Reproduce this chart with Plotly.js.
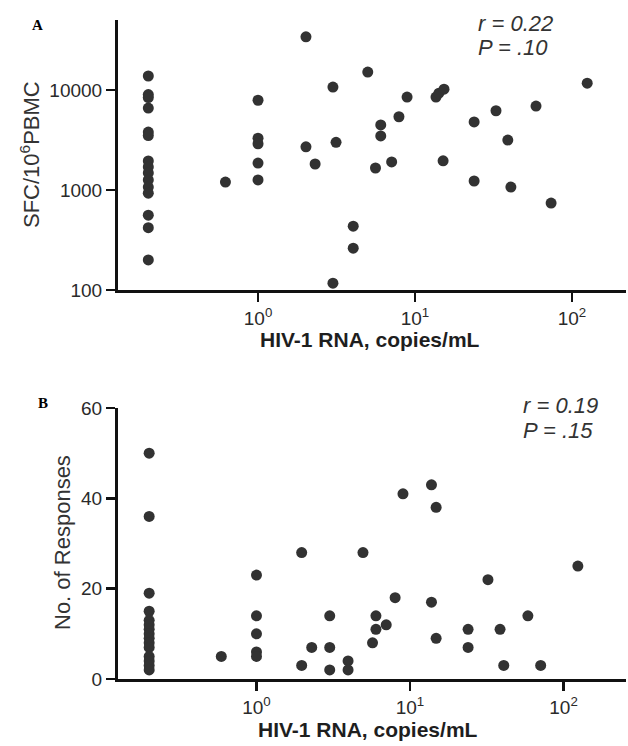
<!DOCTYPE html>
<html><head><meta charset="utf-8">
<script src="https://cdn.plot.ly/plotly-3.0.1.min.js"></script>
<style>html,body{margin:0;padding:0;background:#fff}#chart{width:628px;height:746px}</style>
</head><body><div id="chart"></div>
<script>
// Panel A: HIV-1 RNA (copies/mL) vs SFC/10^6 PBMC
const rnaA = [0.2,0.2,0.2,0.2,0.2,0.2,0.2,0.2,0.2,0.2,0.2,0.2,0.2,0.2,0.2,
  0.62, 1,1,1,1,1, 2.02,2.02, 2.31, 3.0,3.14,3.0, 4.04,4.04, 5.0, 5.6, 6.05,6.05,
  7.1, 7.9, 8.9, 13.6,14.2,15.3, 15.1, 23.8,23.8, 32.8, 39, 40.8, 59, 73.6, 125];
const sfcA = [13800,9000,8400,6600,3800,3500,1950,1700,1480,1260,1070,930,560,420,200,
  1200, 7900,3300,2900,1860,1260, 34000,2700, 1820, 10700,3000,117, 435,262, 15100, 1660, 4470,3470,
  1910, 5400, 8500, 8500,9300,10200, 1960, 4800,1230, 6200, 3160, 1070, 6900, 740, 11700];
// Panel B: HIV-1 RNA (copies/mL) vs number of responses
const rnaB = [0.2,0.2,0.2,0.2,0.2,0.2,0.2,0.2,0.2,0.2,0.2,0.2,0.2,0.2,0.2,
  0.59, 1,1,1,1,1, 1.97,1.97, 2.29, 3.0,3.0,3.0, 3.95,3.95, 4.94, 5.7, 6.0,6.0,
  7.0, 8.0, 9.0, 13.8,13.8, 14.8,14.8, 23.9,23.9, 32.2, 38.6, 40.8, 58.6, 71, 124];
const respB = [50,36,19,15,13,12,11,10,9,8,7,5,4,3,2,
  5, 23,14,10,6,5, 28,3, 7, 14,7,2, 4,2, 28, 8, 14,11,
  12, 18, 41, 43,17, 38,9, 11,7, 22, 11, 3, 14, 3, 25];

const xTickVals = [1, 10, 100];
const xTickText = ['10<sup>0</sup>', '10<sup>1</sup>', '10<sup>2</sup>'];
const yTickValsA = [100, 1000, 10000];
const yTickTextA = ['100', '1000', '10000'];
const yTickValsB = [0, 20, 40, 60];

const statsA = ['<i>r = 0.22</i>', '<i>P = .10</i>'];
const statsB = ['<i>r = 0.19</i>', '<i>P = .15</i>'];

const W = 628, H = 746, L = 118, R = 2, T = 20, B = 67;
const pw = W - L - R, ph = H - T - B;
const px = v => (v - L) / pw;
const py = v => (H - B - v) / ph;

const mk = {size: 11, color: '#323232'};
const traces = [
  {x: rnaA, y: sfcA, type: 'scatter', mode: 'markers', marker: mk, xaxis: 'x', yaxis: 'y', cliponaxis: false},
  {x: rnaB, y: respB, type: 'scatter', mode: 'markers', marker: mk, xaxis: 'x2', yaxis: 'y2', cliponaxis: false}
];

const tickFont = {family: 'Liberation Sans, Arial, sans-serif', size: 19, color: '#2a2a2a'};
const axBase = {showline: true, linecolor: '#111', linewidth: 3, ticks: 'outside', ticklen: 9, tickwidth: 2.5,
  tickcolor: '#111', showgrid: false, zeroline: false, tickfont: tickFont, mirror: false};

const layout = {
  width: W, height: H, showlegend: false,
  paper_bgcolor: '#fff', plot_bgcolor: '#fff',
  margin: {l: L, r: R, t: T, b: B},
  xaxis: Object.assign({}, axBase, {type: 'log', range: [-0.892, 2.344], tickvals: xTickVals, ticktext: xTickText, anchor: 'y'}),
  yaxis: Object.assign({}, axBase, {type: 'log', range: [2, 4.7], tickvals: yTickValsA, ticktext: yTickTextA, domain: [py(290), 1], anchor: 'x'}),
  xaxis2: Object.assign({}, axBase, {type: 'log', range: [-0.902, 2.407], tickvals: xTickVals, ticktext: xTickText, anchor: 'y2'}),
  yaxis2: Object.assign({}, axBase, {range: [0, 60], tickvals: yTickValsB, domain: [0, py(408)], anchor: 'x2'}),
  annotations: [
    {text: 'SFC/10<sup>6</sup>PBMC', xref: 'paper', yref: 'paper', x: px(30), y: py(155), textangle: -90,
     showarrow: false, xanchor: 'center', yanchor: 'middle', font: {family: 'Liberation Sans, Arial', size: 22, color: '#333'}},
    {text: 'No. of Responses', xref: 'paper', yref: 'paper', x: px(62), y: py(543), textangle: -90,
     showarrow: false, xanchor: 'center', yanchor: 'middle', font: {family: 'Liberation Sans, Arial', size: 22, color: '#333'}},
    {text: '<b>HIV-1 RNA, copies/mL</b>', xref: 'paper', yref: 'paper', x: px(370), y: py(339),
     showarrow: false, xanchor: 'center', yanchor: 'middle', font: {family: 'Liberation Sans, Arial', size: 21, color: '#1e1e1e'}},
    {text: '<b>HIV-1 RNA, copies/mL</b>', xref: 'paper', yref: 'paper', x: px(368), y: py(729),
     showarrow: false, xanchor: 'center', yanchor: 'middle', font: {family: 'Liberation Sans, Arial', size: 21, color: '#1e1e1e'}},
    {text: '<b>A</b>', xref: 'paper', yref: 'paper', x: px(37), y: py(25),
     showarrow: false, xanchor: 'center', yanchor: 'middle', font: {family: 'Liberation Serif, Times New Roman, serif', size: 15, color: '#000'}},
    {text: '<b>B</b>', xref: 'paper', yref: 'paper', x: px(43), y: py(403),
     showarrow: false, xanchor: 'center', yanchor: 'middle', font: {family: 'Liberation Serif, Times New Roman, serif', size: 15, color: '#000'}},
    {text: statsA[0], xref: 'paper', yref: 'paper', x: px(476), y: py(24),
     showarrow: false, xanchor: 'left', yanchor: 'middle', font: {family: 'Liberation Sans, Arial', size: 22, color: '#333'}},
    {text: statsA[1], xref: 'paper', yref: 'paper', x: px(476), y: py(48),
     showarrow: false, xanchor: 'left', yanchor: 'middle', font: {family: 'Liberation Sans, Arial', size: 22, color: '#333'}},
    {text: statsB[0], xref: 'paper', yref: 'paper', x: px(521), y: py(405),
     showarrow: false, xanchor: 'left', yanchor: 'middle', font: {family: 'Liberation Sans, Arial', size: 22, color: '#333'}},
    {text: statsB[1], xref: 'paper', yref: 'paper', x: px(521), y: py(430),
     showarrow: false, xanchor: 'left', yanchor: 'middle', font: {family: 'Liberation Sans, Arial', size: 22, color: '#333'}}
  ]
};

Plotly.newPlot('chart', traces, layout, {staticPlot: true, displayModeBar: false});
</script>
</body></html>
